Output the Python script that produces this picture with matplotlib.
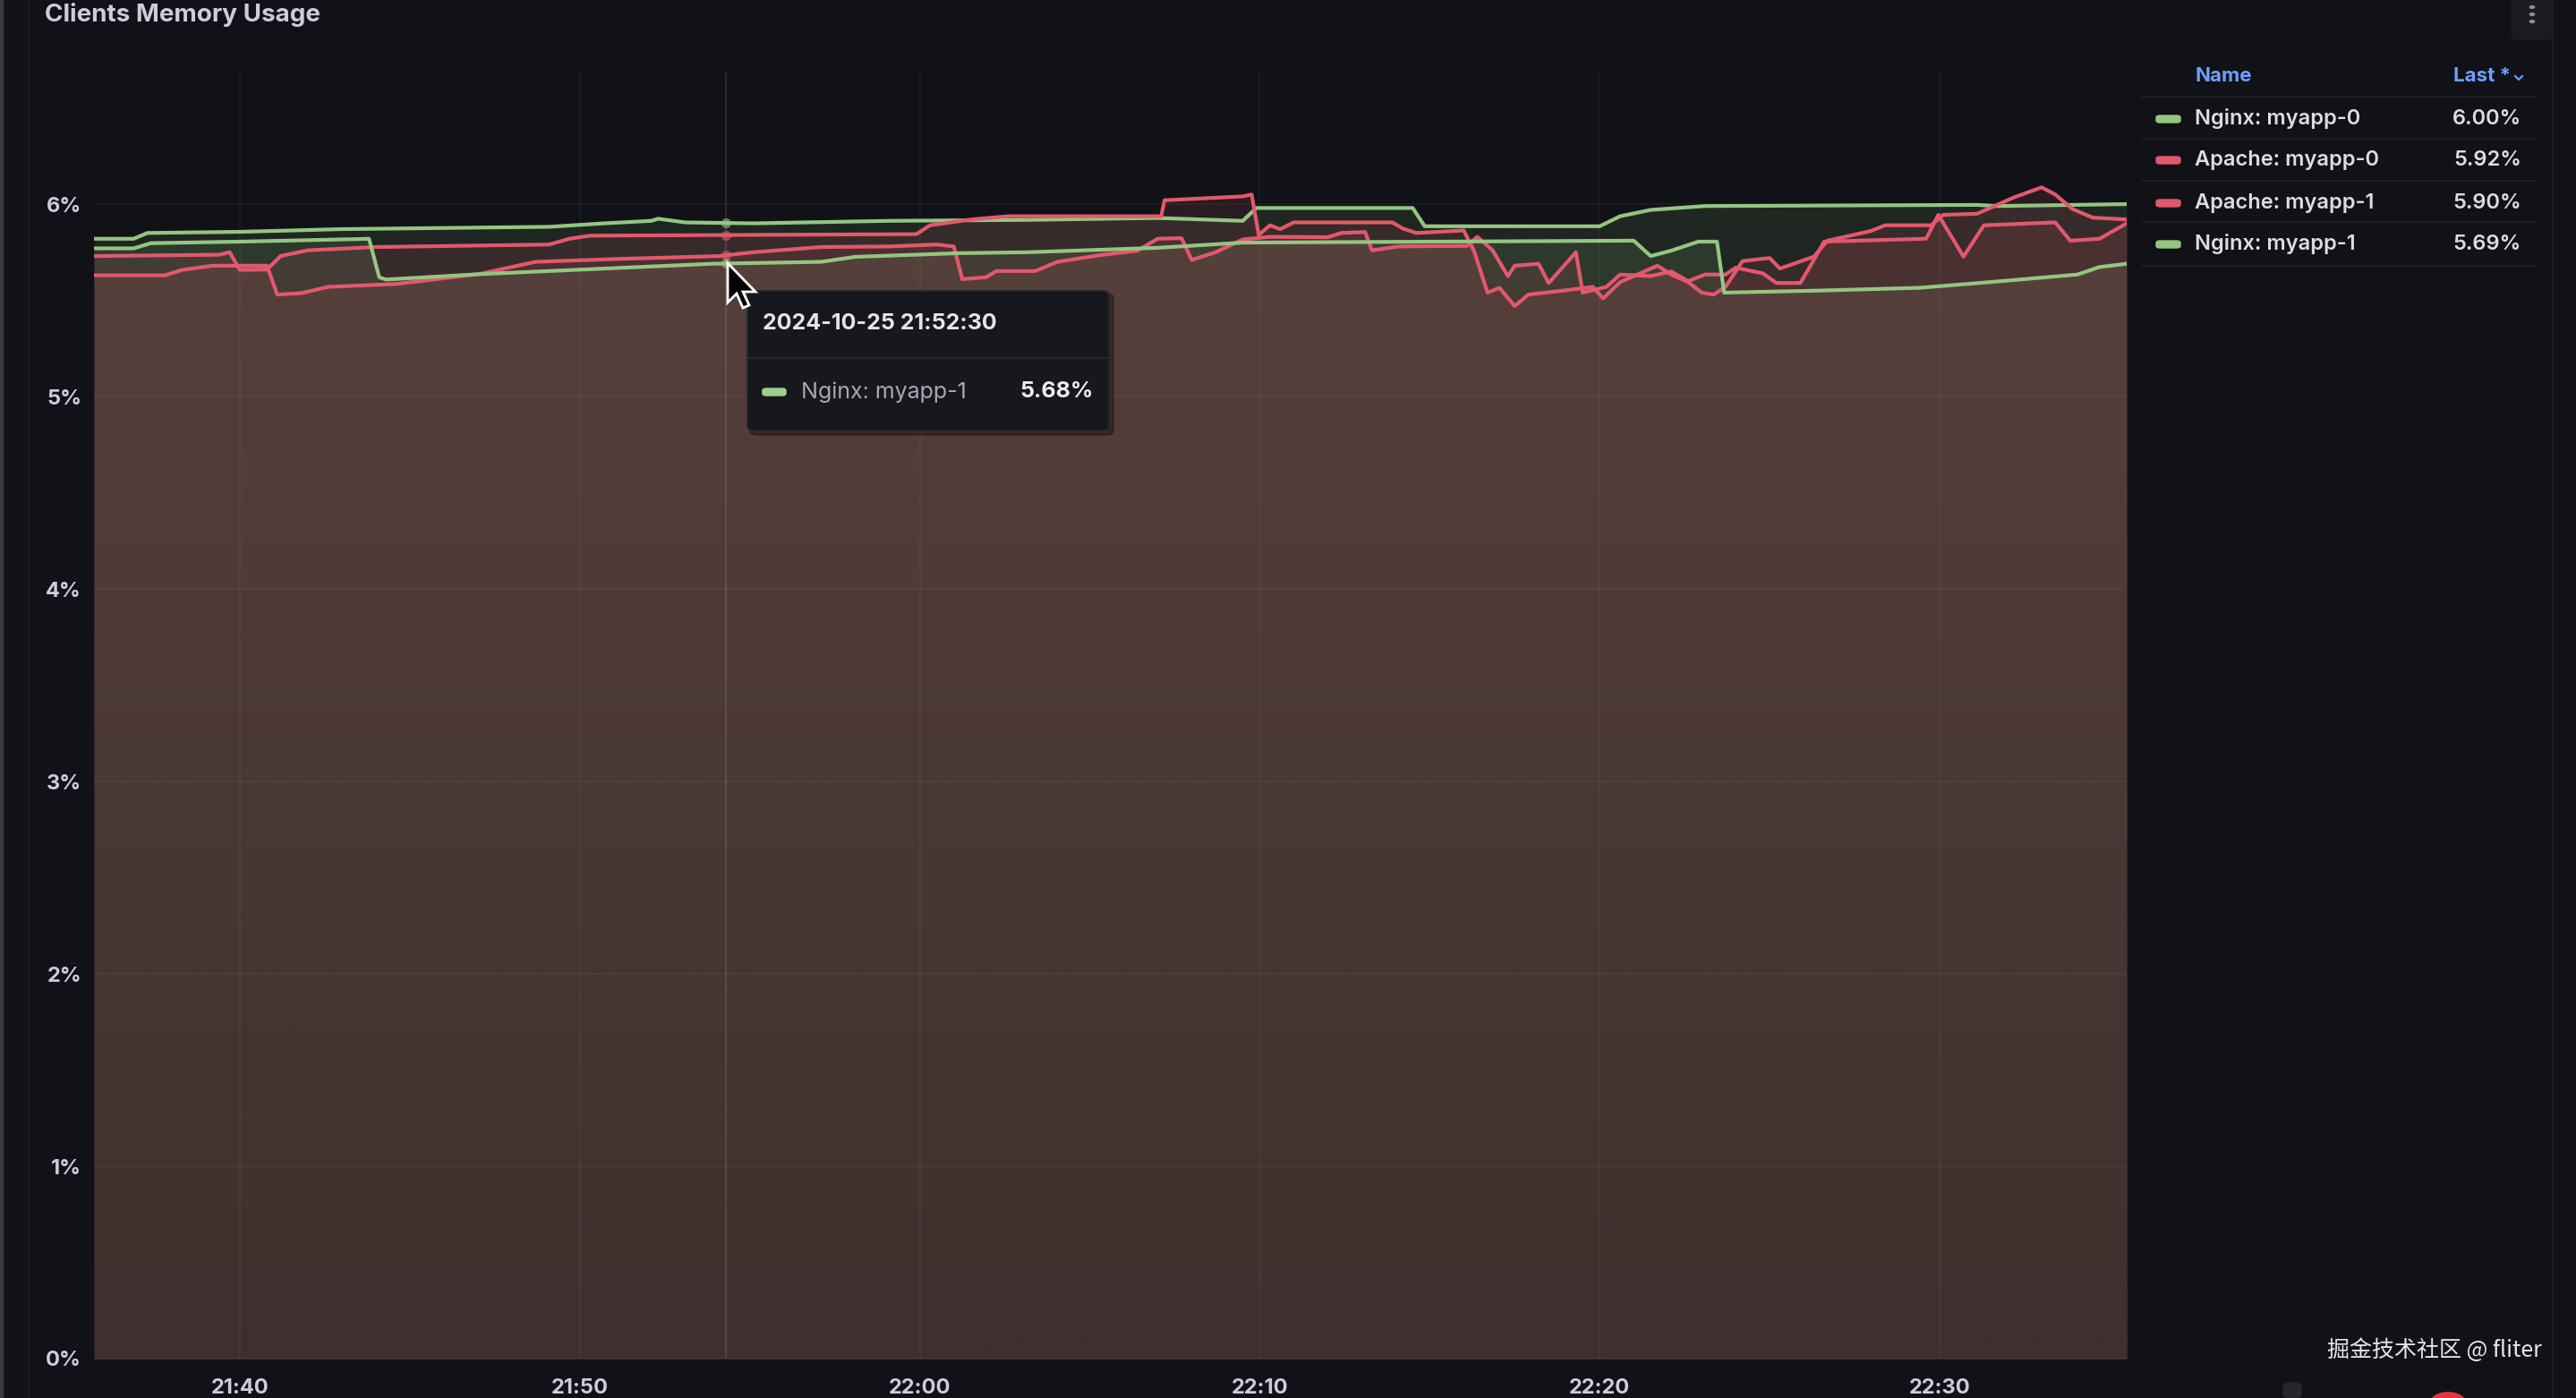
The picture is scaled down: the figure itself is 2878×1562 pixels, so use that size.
import numpy as np
import pandas as pd
import matplotlib
matplotlib.use("Agg")
import matplotlib.pyplot as plt
import matplotlib.dates as mdates
from matplotlib.patches import FancyBboxPatch, Polygon, Circle, Rectangle

# %%
W, H = 2878, 1562
BG = "#111217"
TXT = "#ccccdc"
GREEN = "#94c581"
RED = "#e2586c"

plt.rcParams["font.family"] = ["Inter", "DejaVu Sans"]

base = pd.Timestamp("2024-10-25 21:30:00")

# minutes after 21:30 and memory usage in %
nginx0_t = [5.71, 6.88, 7.28, 10.0, 13.0, 19.1, 20.7, 22.1, 22.3, 23.1, 25.1, 29.1, 33.2, 37.0,
            39.5, 39.9, 44.5, 44.85, 50.0, 50.6, 51.5, 53.1, 61.1, 61.7, 65.5]
nginx0_v = [5.82, 5.82, 5.85, 5.856, 5.87, 5.882, 5.90, 5.913, 5.924, 5.905, 5.90, 5.913, 5.918, 5.928,
            5.913, 5.98, 5.98, 5.885, 5.885, 5.937, 5.97, 5.99, 5.996, 5.99, 6.00]

nginx1_t = [5.71, 6.88, 7.38, 10.0, 13.4, 13.8, 14.1, 14.3, 17.05, 21.1, 23.9, 27.1, 28.1, 31.15,
            33.2, 37.0, 39.5, 51.0, 51.5, 52.1, 52.9, 53.45, 53.66, 56.3, 59.4, 61.5, 64.05, 64.7, 65.5]
nginx1_v = [5.77, 5.77, 5.797, 5.805, 5.818, 5.82, 5.62, 5.608, 5.636, 5.668, 5.69, 5.70, 5.726, 5.745,
            5.75, 5.773, 5.80, 5.81, 5.73, 5.758, 5.805, 5.805, 5.54, 5.55, 5.565, 5.595, 5.634, 5.673, 5.69]

apache0_t = [5.71, 9.4, 9.7, 10.0, 10.8, 11.2, 12.0, 14.0, 19.1, 19.7, 20.3, 29.9, 30.3, 31.5, 32.6,
             37.1, 37.2, 39.5, 39.76, 39.97, 40.3, 40.6, 41.0, 43.9, 44.2, 44.6, 46.0, 46.3, 46.7,
             47.05, 47.5, 47.9, 48.9, 49.8, 50.1, 50.6, 51.7, 52.1, 52.6, 53.0, 53.35, 53.7, 54.2,
             55.0, 55.3, 56.3, 56.7, 57.97, 58.4, 59.75, 60.1, 61.1, 62.2, 63.0, 63.4, 63.9, 64.5, 65.5]
apache0_v = [5.73, 5.737, 5.75, 5.658, 5.66, 5.73, 5.76, 5.777, 5.79, 5.82, 5.836, 5.844, 5.89, 5.92, 5.937,
             5.937, 6.02, 6.04, 6.05, 5.84, 5.89, 5.87, 5.905, 5.905, 5.874, 5.85, 5.863, 5.758, 5.54,
             5.565, 5.47, 5.53, 5.55, 5.57, 5.51, 5.595, 5.68, 5.634, 5.595, 5.54, 5.53, 5.57, 5.704,
             5.72, 5.665, 5.727, 5.81, 5.86, 5.89, 5.89, 5.944, 5.95, 6.036, 6.087, 6.05, 5.975, 5.93, 5.92]

apache1_t = [5.71, 7.8, 8.3, 9.2, 10.8, 11.1, 11.8, 12.6, 14.6, 17.05, 18.7, 21.1, 24.1, 25.1, 27.1,
             29.1, 30.5, 31.0, 31.25, 31.95, 32.25, 33.4, 34.05, 35.3, 36.4, 37.0, 37.7, 38.0, 38.7,
             39.5, 40.3, 42.0, 42.4, 43.1, 43.3, 44.1, 46.1, 46.4, 46.85, 47.3, 47.5, 48.2, 48.5,
             49.3, 49.5, 50.2, 50.6, 51.5, 52.1, 52.6, 53.1, 53.7, 54.0, 54.8, 55.2, 55.9, 56.2,
             56.6, 59.6, 59.96, 60.7, 61.3, 63.4, 63.84, 64.7, 65.5]
apache1_v = [5.63, 5.63, 5.658, 5.68, 5.68, 5.53, 5.537, 5.57, 5.585, 5.637, 5.70, 5.715, 5.73, 5.75, 5.777,
             5.78, 5.79, 5.78, 5.61, 5.62, 5.652, 5.652, 5.70, 5.735, 5.758, 5.82, 5.823, 5.71, 5.75,
             5.816, 5.83, 5.828, 5.85, 5.855, 5.76, 5.78, 5.783, 5.83, 5.76, 5.626, 5.68, 5.69, 5.59,
             5.75, 5.54, 5.57, 5.634, 5.626, 5.65, 5.60, 5.634, 5.634, 5.67, 5.64, 5.59, 5.59, 5.68,
             5.805, 5.82, 5.944, 5.727, 5.89, 5.905, 5.81, 5.82, 5.90]

series_names = ["Nginx: myapp-0", "Apache: myapp-0", "Apache: myapp-1", "Nginx: myapp-1"]
series_t = [nginx0_t, apache0_t, apache1_t, nginx1_t]
series_v = [nginx0_v, apache0_v, apache1_v, nginx1_v]
series_colors = [GREEN, RED, RED, GREEN]

y_ticks = [0, 1, 2, 3, 4, 5, 6]
x_ticks = ["21:40", "21:50", "22:00", "22:10", "22:20", "22:30"]
x_start, x_end = 5.71, 65.5
y_max = 6.684
cursor_t = 24.3

tooltip_time = "2024-10-25 21:52:30"
tooltip_name = "Nginx: myapp-1"
tooltip_value = 5.68


def to_dt(mins):
    return base + pd.to_timedelta(np.asarray(mins, dtype=float), unit="min")


def fx(px):
    return px / W


def fy(py):
    return 1 - py / H


# %%
fig = plt.figure(figsize=(W / 100, H / 100), dpi=100, facecolor=BG)
ax = fig.add_axes([fx(105), fy(1518), fx(2376) - fx(105), fy(81) - fy(1518)])
ax.set_facecolor(BG)

# fills first (greens then reds gives the brownish mix)
for t, v, c in [(nginx0_t, nginx0_v, GREEN), (nginx1_t, nginx1_v, GREEN),
                (apache0_t, apache0_v, RED), (apache1_t, apache1_v, RED)]:
    ax.fill_between(to_dt(t), v, 0, color=c, alpha=0.12, lw=0, zorder=1)

# darken the fill toward the bottom like grafana's gradient mode
grad = np.zeros((256, 2, 4))
grad[..., :3] = matplotlib.colors.to_rgb(BG)
alphas = np.clip(0.35 * (1 - np.linspace(0, y_max, 256) / 6.0), 0, 1)
grad[..., 3] = alphas[:, None]
x0n = mdates.date2num(to_dt([x_start])[0])
x1n = mdates.date2num(to_dt([x_end])[0])
ax.imshow(grad, extent=[x0n, x1n, 0, y_max], origin="lower", aspect="auto", zorder=2,
          interpolation="bilinear")

for t, v, c in zip(series_t, series_v, series_colors):
    ax.plot(to_dt(t), v, color=c, lw=3.0, zorder=4, solid_joinstyle="round")

# hover line + points
cur = to_dt([cursor_t])[0]
ax.axvline(cur, color="white", alpha=0.1, lw=1.6, zorder=3)
for t, v, c in zip(series_t, series_v, series_colors):
    ax.plot([cur], [np.interp(cursor_t, t, v)], "o", ms=8, color=c, alpha=0.6, zorder=5, mec="none")

ax.set_xlim(to_dt([x_start])[0], to_dt([x_end])[0])
ax.set_ylim(0, y_max)
ax.set_yticks(y_ticks)
ax.set_yticklabels([f"{y}%" for y in y_ticks])
ax.set_xticks([pd.Timestamp(f"2024-10-25 {s}:00") for s in x_ticks])
ax.xaxis.set_major_formatter(mdates.DateFormatter("%H:%M"))
ax.set_axisbelow(False)
ax.grid(True, color="#ffffff", alpha=0.045, lw=1.3)
ax.tick_params(length=0, colors=TXT, labelsize=17, pad=10)
ax.tick_params(axis="x", pad=16)
for lab in ax.get_xticklabels() + ax.get_yticklabels():
    lab.set_fontweight("bold")
for s in ax.spines.values():
    s.set_visible(False)

# panel title
fig.text(fx(50), fy(16), "Clients Memory Usage", color=TXT, fontsize=20, fontweight="bold",
         va="center", ha="left")

# panel edges / menu
fig.patches.append(Rectangle((0, 0), fx(3), 1, transform=fig.transFigure, color="#3a3b40"))
fig.lines.append(plt.Line2D([fx(32), fx(32)], [0, 1], transform=fig.transFigure, color="#1c1d22", lw=1.5))
fig.lines.append(plt.Line2D([fx(2852), fx(2852)], [0, 1], transform=fig.transFigure, color="#1c1d22", lw=1.5))
fig.patches.append(FancyBboxPatch((fx(2806), fy(44)), fx(46), fy(0) - fy(44) + 0.01, transform=fig.transFigure,
                                  boxstyle="round,pad=0,rounding_size=0.003", color="#1a1b20"))
for dy in [8, 16, 24]:
    fig.patches.append(Circle((fx(2829), fy(dy)), 0.0009, transform=fig.transFigure, color="#8e8e95"))

# legend table
fig.text(fx(2453), fy(85), "Name", color="#6e9fff", fontsize=16, fontweight="bold", va="center")
fig.text(fx(2805), fy(85), "Last *", color="#6e9fff", fontsize=16, fontweight="bold", va="center", ha="right")
fig.lines.append(plt.Line2D([fx(2810), fx(2814), fx(2818)], [fy(85), fy(89), fy(85)],
                            transform=fig.transFigure, color="#6e9fff", lw=1.5))
row_y = [133, 179, 227, 273]
for yy in [108, 155, 202, 248, 297]:
    fig.lines.append(plt.Line2D([fx(2393), fx(2833)], [fy(yy), fy(yy)], transform=fig.transFigure,
                                color="#202127", lw=1.2))
for name, v, c, yy in zip(series_names, series_v, series_colors, row_y):
    fig.patches.append(FancyBboxPatch((fx(2409), fy(yy + 4)), fx(27), fy(yy - 4) - fy(yy + 4),
                                      transform=fig.transFigure, boxstyle="round,pad=0,rounding_size=0.0015",
                                      color=c))
    fig.text(fx(2452), fy(yy), name, color="#dcdce4", fontsize=17, fontweight="semibold", va="center", ha="left")
    fig.text(fx(2817), fy(yy), f"{v[-1]:.2f}%", color="#dcdce4", fontsize=17, fontweight="semibold",
             va="center", ha="right")

# tooltip
fig.patches.append(FancyBboxPatch((fx(838), fy(486)), fx(406), fy(328) - fy(486), transform=fig.transFigure,
                                  boxstyle="round,pad=0,rounding_size=0.003", color="#000000", alpha=0.35))
fig.patches.append(FancyBboxPatch((fx(835), fy(481)), fx(404), fy(325) - fy(481), transform=fig.transFigure,
                                  boxstyle="round,pad=0,rounding_size=0.003", facecolor="#17181d",
                                  edgecolor="#25262c", lw=1.2))
fig.lines.append(plt.Line2D([fx(836), fx(1238)], [fy(400), fy(400)], transform=fig.transFigure,
                            color="#2a2b31", lw=1.2))
fig.text(fx(852), fy(362), tooltip_time, color="#e4e4ea", fontsize=18, fontweight="bold", va="center")
fig.patches.append(FancyBboxPatch((fx(852), fy(442)), fx(26), fy(434) - fy(442), transform=fig.transFigure,
                                  boxstyle="round,pad=0,rounding_size=0.0015", color="#9fcf8e"))
fig.text(fx(895), fy(438), tooltip_name, color="#a8a8b2", fontsize=18, va="center")
fig.text(fx(1222), fy(438), f"{tooltip_value:.2f}%", color="#ececf0", fontsize=18, fontweight="bold",
         va="center", ha="right")

# mouse pointer
tip = (813, 294)
shape = [(0, 0), (0, 44), (10, 34), (17, 50), (24, 47), (17, 32), (31, 32)]
fig.patches.append(Polygon([(fx(tip[0] + dx), fy(tip[1] + dy)) for dx, dy in shape], closed=True,
                           transform=fig.transFigure, facecolor="#050505", edgecolor="white", lw=2, zorder=10))

# watermark and bottom-right bits
fig.text(fx(2840), fy(1509), "掘金技术社区 @ fliter", color="#e6e6e6", fontsize=18, ha="right", va="center",
         family=["Noto Sans CJK SC", "DejaVu Sans"])
fig.patches.append(FancyBboxPatch((fx(2551), fy(1562)), fx(20), fy(1545) - fy(1562), transform=fig.transFigure,
                                  boxstyle="round,pad=0,rounding_size=0.003", color="#26272c"))
fig.patches.append(Circle((fx(2735), fy(1566)), 0.0065, transform=fig.transFigure, color="#e8333f"))

fig.savefig("out.png", dpi=100, facecolor=BG)
